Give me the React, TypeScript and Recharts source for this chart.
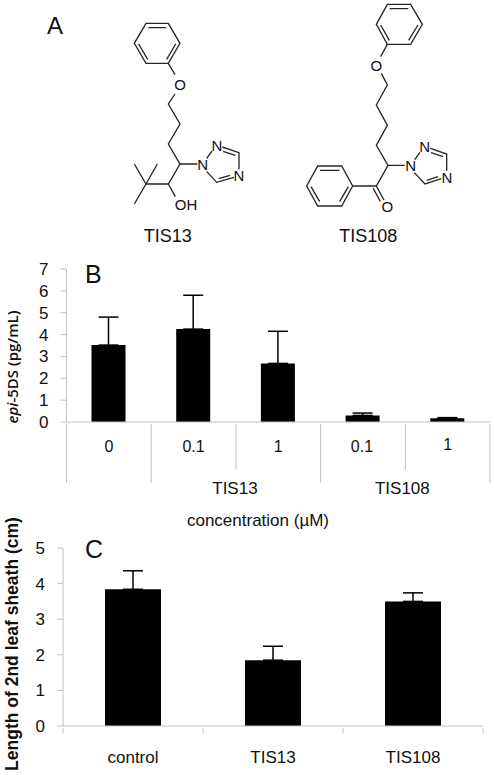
import React from "react";
import { BarChart, Bar, XAxis, YAxis, ErrorBar } from "recharts";

const AXIS_COLOR = "#c2c2c2";
const FONT = "'Liberation Sans', Arial, sans-serif";

// panel B
const doseLabels = ["0", "0.1", "1", "0.1", "1"];
const doseGroups = ["", "", "TIS13", "", "TIS108"];
const epiValues = [3.52, 4.25, 2.68, 0.3, 0.17];
const epiErrors = [1.28, 1.55, 1.47, 0.11, 0.03];
const epiTicks = [0, 1, 2, 3, 4, 5, 6, 7];

// panel C
const treatments = ["control", "TIS13", "TIS108"];
const sheathValues = [3.84, 1.85, 3.5];
const sheathErrors = [0.52, 0.39, 0.24];
const sheathTicks = [0, 1, 2, 3, 4, 5];

const epiData = doseLabels.map((dose, i) => ({
  dose: `${i}`,
  value: epiValues[i],
  err: [0, epiErrors[i]],
}));
const sheathData = treatments.map((name, i) => ({
  name,
  value: sheathValues[i],
  err: [0, sheathErrors[i]],
}));

// structures, in 3x zoomed coordinates (viewBox 1482 x 780)
const structureLines = [
  // TIS13 phenyl
  "M438 70L505 70L540 130L505 190L438 190L403 130Z",
  "M445 83L498 83M527 132L500 178M416 132L443 178",
  // TIS13 chain
  "M505 190L525 224M525 282L505 312L540 372L505 432L540 492L592 492",
  "M540 492L505 552L438 552M505 552L526 590",
  "M438 552L403 492M438 552L472 492M438 552L403 612",
  // TIS13 triazole
  "M620 475L636 453M667 441L717 458L717 508M669 454L706 466M702 532L650 547L620 514M690 526L656 536",
  // TIS108 top phenyl
  "M1162 13L1232 13L1267 73L1232 133L1162 133L1129 73Z",
  "M1169 26L1225 26M1254 75L1226 121M1142 75L1168 121",
  // TIS108 chain
  "M1162 133L1142 170M1144 220L1162 255L1129 315L1162 376L1129 436L1164 496L1214 496",
  "M1164 496L1129 558L1058 558M1129 558L1152 600M1119 564L1141 604",
  // TIS108 lower phenyl
  "M1058 558L1025 498L953 498L920 558L953 618L1025 618Z",
  "M960 511L1018 511M933 560L959 605M1045 560L1019 605",
  // TIS108 triazole
  "M1244 479L1260 457M1291 445L1340 462L1340 512M1293 458L1329 470M1324 536L1275 552L1243 518M1314 530L1280 541",
];

const Structures = () => (
  <svg
    viewBox="0 0 1482 780"
    width={494}
    height={260}
    style={{ position: "absolute", left: 0, top: 0 }}
  >
    <g fill="none" stroke="#262626" strokeWidth={4}>
      {structureLines.map((d, i) => (
        <path key={i} d={d} />
      ))}
    </g>
    <g fontFamily={FONT} fontSize={45} fill="#111" textAnchor="middle">
      <text x={540} y={270}>O</text>
      <text x={558} y={629}>OH</text>
      <text x={608} y={509}>N</text>
      <text x={651} y={452}>N</text>
      <text x={717} y={543}>N</text>
      <text x={1129} y={212}>O</text>
      <text x={1162} y={637}>O</text>
      <text x={1232} y={513}>N</text>
      <text x={1274} y={457}>N</text>
      <text x={1341} y={550}>N</text>
    </g>
    <g fontFamily={FONT} fontSize={54} fill="#111" textAnchor="middle">
      <text x={503} y={726}>TIS13</text>
      <text x={1105} y={726}>TIS108</text>
    </g>
  </svg>
);

const Annotations = () => (
  <svg
    width={494}
    height={775}
    style={{ position: "absolute", left: 0, top: 0, pointerEvents: "none" }}
    fontFamily={FONT}
    fill="#111"
  >
    <text x={47} y={34} fontSize={24}>A</text>
    <text x={85} y={283} fontSize={25}>B</text>
    <text x={85} y={558} fontSize={25}>C</text>
    <text x={258} y={526} fontSize={17} textAnchor="middle">concentration (µM)</text>
    <text
      transform="translate(18 367) rotate(-90)"
      fontFamily="'Open Sans', sans-serif"
      fontWeight={600}
      fontSize={15}
      textAnchor="middle"
    >
      <tspan fontStyle="italic">epi</tspan>-5DS (pg/mL)
    </text>
    <text
      transform="translate(18 644) rotate(-90)"
      fontWeight={700}
      fontSize={17.5}
      textAnchor="middle"
    >
      Length of 2nd leaf sheath (cm)
    </text>
  </svg>
);

const DOSE_BAND = 84.6;

// two-tier category axis, with the separators running down between cells
const DoseTick = ({ x, y, index }: any) => {
  const left = x - DOSE_BAND / 2;
  const right = x + DOSE_BAND / 2;
  const inner = index === 2 || index === 4;
  return (
    <g fontFamily={FONT} fill="#111" textAnchor="middle">
      <line x1={left} x2={left} y1={y} y2={y + (inner ? 46 : 59)} stroke={AXIS_COLOR} />
      {index === 4 && <line x1={right} x2={right} y1={y} y2={y + 59} stroke={AXIS_COLOR} />}
      <text x={index === 3 ? x - 1 : x} y={y + (index === 4 ? 26 : 28)} fontSize={16}>
        {doseLabels[index]}
      </text>
      {doseGroups[index] && (
        <text x={index === 4 ? left - 3 : left - 1} y={y + 70} fontSize={17}>
          {doseGroups[index]}
        </text>
      )}
    </g>
  );
};

const TREAT_BAND = 140;

const TreatTick = ({ x, y, index }: any) => {
  const left = x - TREAT_BAND / 2;
  const right = x + TREAT_BAND / 2;
  return (
    <g fontFamily={FONT} fill="#111" textAnchor="middle">
      <line x1={left} x2={left} y1={y} y2={y + 5} stroke={AXIS_COLOR} />
      {index === 2 && <line x1={right} x2={right} y1={y} y2={y + 5} stroke={AXIS_COLOR} />}
      <text x={x} y={y + 35} fontSize={17}>
        {treatments[index]}
      </text>
    </g>
  );
};

const yTick = { fontSize: 17, fill: "#111", fontFamily: FONT };

export default function App() {
  return (
    <div style={{ position: "absolute", left: 0, top: 0, width: 494, height: 775, background: "#fff" }}>
      <Structures />
      <div style={{ position: "absolute", left: 0, top: 255 }}>
        <BarChart
          width={494}
          height={260}
          data={epiData}
          barCategoryGap={50}
          margin={{ top: 14, right: 4, bottom: 0, left: 0 }}
        >
          <XAxis
            dataKey="dose"
            height={93}
            interval={0}
            tickLine={false}
            tickSize={0}
            tick={DoseTick}
            axisLine={{ stroke: AXIS_COLOR }}
          />
          <YAxis
            width={66.5}
            domain={[0, 7]}
            ticks={epiTicks}
            interval={0}
            tick={yTick}
            tickSize={6}
            tickMargin={12}
            tickLine={{ stroke: AXIS_COLOR }}
            axisLine={{ stroke: AXIS_COLOR }}
          />
          <Bar dataKey="value" fill="#000" barSize={34} isAnimationActive={false}>
            <ErrorBar dataKey="err" direction="y" width={10} stroke="#000" strokeWidth={1.5} isAnimationActive={false} />
          </Bar>
        </BarChart>
      </div>
      <div style={{ position: "absolute", left: 0, top: 535 }}>
        <BarChart
          width={494}
          height={240}
          data={sheathData}
          margin={{ top: 13, right: 11, bottom: 0, left: 0 }}
        >
          <XAxis
            dataKey="name"
            height={49}
            interval={0}
            tickLine={false}
            tickSize={0}
            tick={TreatTick}
            axisLine={{ stroke: AXIS_COLOR }}
          />
          <YAxis
            width={63}
            domain={[0, 5]}
            ticks={sheathTicks}
            interval={0}
            tick={yTick}
            tickSize={6}
            tickMargin={12}
            tickLine={{ stroke: AXIS_COLOR }}
            axisLine={{ stroke: AXIS_COLOR }}
          />
          <Bar dataKey="value" fill="#000" barSize={56} isAnimationActive={false}>
            <ErrorBar dataKey="err" direction="y" width={10} stroke="#000" strokeWidth={1.5} isAnimationActive={false} />
          </Bar>
        </BarChart>
      </div>
      <Annotations />
    </div>
  );
}
